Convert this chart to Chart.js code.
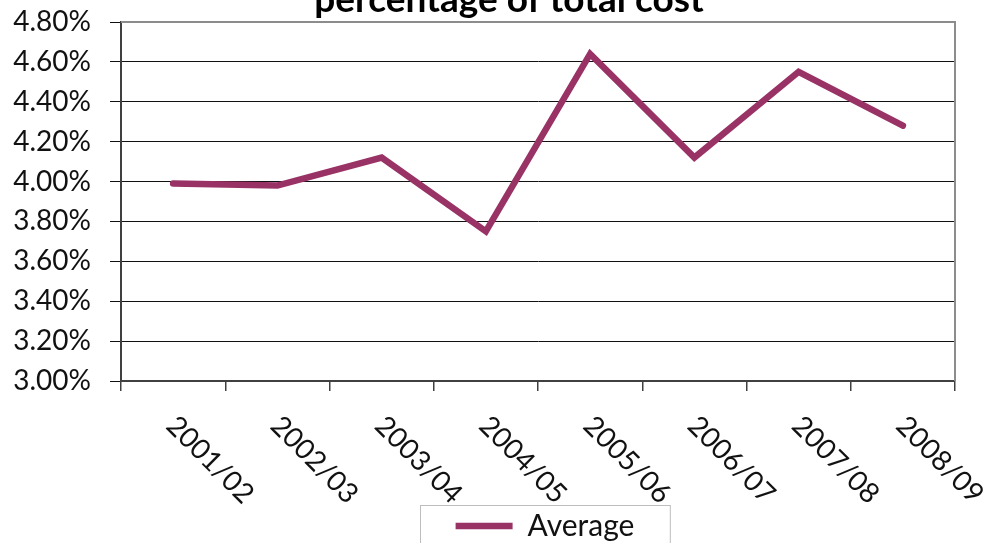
<!DOCTYPE html>
<html>
<head>
<meta charset="utf-8">
<title>percentage of total cost</title>
<script src="https://cdn.jsdelivr.net/npm/chart.js"></script>
<style>
    html, body { margin: 0; padding: 0; background: #fff; overflow: hidden; }
    #wrap { position: absolute; left: 0; top: -30px; width: 991px; height: 600px; }
</style>
</head>
<body>
<div id="wrap"><canvas id="myChart" width="991" height="600"></canvas></div>
<script>
// Data
const years = ['2001/02', '2002/03', '2003/04', '2004/05', '2005/06', '2006/07', '2007/08', '2008/09'];
const average = [3.99, 3.98, 4.12, 3.75, 4.64, 4.12, 4.55, 4.28];
const yMin = 3.0;
const yMax = 4.8;
const yStep = 0.2;
const titleText = 'percentage of total cost';

const lineColor = '#993366';
const fontName = 'Lato';

// Title sits a little left of the plot centre, so it is drawn here
const chartTitle = {
    id: 'chartTitle',
    afterDraw(chart) {
        const ctx = chart.ctx;
        ctx.save();
        ctx.font = 'bold 37px ' + fontName;
        ctx.fillStyle = '#000';
        ctx.textAlign = 'center';
        ctx.textBaseline = 'alphabetic';
        ctx.fillText(titleText, 509, chart.chartArea.top - 10);
        ctx.restore();
    }
};

// Gray frame on top and right of the plot area
const plotFrame = {
    id: 'plotFrame',
    beforeDatasetsDraw(chart) {
        const { ctx, chartArea } = chart;
        ctx.save();
        ctx.strokeStyle = '#8c8c8c';
        ctx.lineWidth = 2;
        ctx.beginPath();
        ctx.moveTo(chartArea.left, chartArea.top);
        ctx.lineTo(chartArea.right, chartArea.top);
        ctx.lineTo(chartArea.right, chartArea.bottom);
        ctx.stroke();
        ctx.restore();
    }
};

// x labels turned 45 degrees clockwise, starting at the category
const slantedLabels = {
    id: 'slantedLabels',
    afterDraw(chart) {
        const { ctx } = chart;
        const xScale = chart.scales.x;
        ctx.save();
        ctx.font = '28px ' + fontName;
        ctx.fillStyle = '#111';
        ctx.textAlign = 'left';
        ctx.textBaseline = 'middle';
        years.forEach((label, i) => {
            const x = xScale.getPixelForValue(i);
            ctx.save();
            ctx.translate(x - 2, xScale.top + 40);
            ctx.rotate(Math.PI / 4);
            ctx.fillText(label, 0, 0);
            ctx.restore();
        });
        ctx.restore();
    }
};

// nudge the legend a bit to the right, like the original
const legendShift = {
    id: 'legendShift',
    afterLayout(chart) {
        const legend = chart.legend;
        if (!legend) return;
        legend.left += 7;
        legend.right += 7;
        legend.legendHitBoxes.forEach(hb => { hb.left += 7; });
    }
};

// Box round the legend
const legendBox = {
    id: 'legendBox',
    afterDraw(chart) {
        const legend = chart.legend;
        if (!legend || !legend.legendHitBoxes.length) return;
        const hb = legend.legendHitBoxes[0];
        const ctx = chart.ctx;
        ctx.save();
        ctx.strokeStyle = '#bdbdbd';
        ctx.lineWidth = 1;
        ctx.strokeRect(Math.round(hb.left - 36) + 0.5, Math.round(legend.top + 4) + 0.5, hb.width + 71, 120);
        ctx.restore();
    }
};

new Chart(document.getElementById('myChart'), {
    type: 'line',
    data: {
        labels: years,
        datasets: [{
            label: 'Average',
            data: average,
            borderColor: lineColor,
            backgroundColor: lineColor,
            borderWidth: 6.5,
            borderCapStyle: 'round',
            pointRadius: 0,
            tension: 0,
            fill: false
        }]
    },
    options: {
        responsive: false,
        animation: false,
        devicePixelRatio: 1,
        layout: {
            padding: { left: 0, right: 36, top: 52, bottom: 19 }
        },
        plugins: {
            title: { display: false },
            legend: {
                display: true,
                position: 'bottom',
                fullSize: false,
                labels: {
                    usePointStyle: true,
                    pointStyle: 'line',
                    pointStyleWidth: 57,
                    color: '#111',
                    padding: 10,
                    font: { family: fontName, size: 30 }
                }
            },
            tooltip: { enabled: false }
        },
        scales: {
            x: {
                offset: true,
                grid: {
                    offset: true,
                    drawOnChartArea: false,
                    drawTicks: true,
                    tickLength: 10,
                    color: '#404040',
                    lineWidth: 1.5
                },
                border: { display: true, color: '#404040', width: 2 },
                ticks: { display: false },
                afterFit: (scale) => { scale.height = 120; }
            },
            y: {
                min: yMin,
                max: yMax,
                grid: {
                    color: '#111',
                    lineWidth: 1,
                    drawTicks: true,
                    tickLength: 11
                },
                border: { display: true, color: '#404040', width: 2 },
                ticks: {
                    stepSize: yStep,
                    padding: 19,
                    color: '#111',
                    font: { family: fontName, size: 28 },
                    callback: (value) => value.toFixed(2) + '%'
                },
                afterFit: (scale) => { scale.width = 121; }
            }
        }
    },
    plugins: [chartTitle, plotFrame, slantedLabels, legendShift, legendBox]
});
</script>
</body>
</html>
